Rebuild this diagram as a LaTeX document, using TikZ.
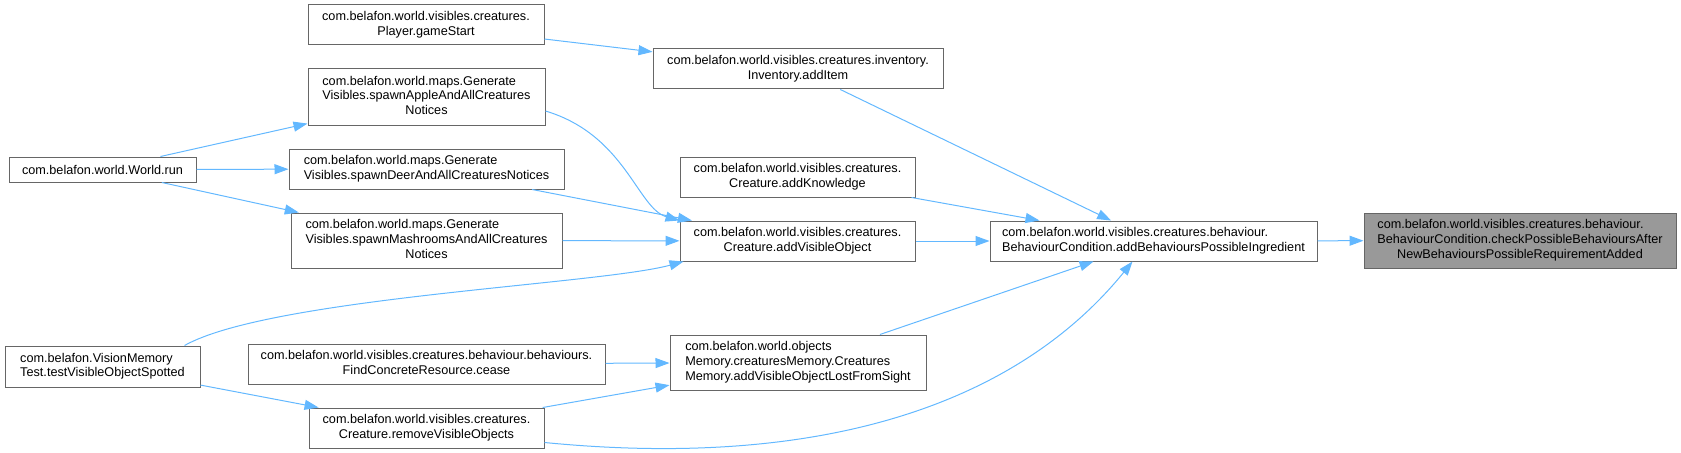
\documentclass[tikz,border=0pt]{standalone}
\usepackage{fontspec}
\setmainfont{Liberation Sans}
\usetikzlibrary{arrows.meta,calc}
\definecolor{edgeblue}{HTML}{63B8FF}
\definecolor{nodeborder}{HTML}{666666}
\definecolor{greyfill}{HTML}{999999}
\newcommand{\dlabel}[2]{\begin{tabular}{@{}l@{}}#1\\\multicolumn{1}{@{}c@{}}{#2}\end{tabular}}
\begin{document}
\begin{tikzpicture}[x=0.75pt,y=-0.75pt,
  box/.style={draw=nodeborder, line width=0.75pt, fill=white, inner sep=0pt,
    font=\fontsize{9.5}{11.2}\selectfont, text=black},
  greybox/.style={box, fill=greyfill},
  edge/.style={draw=edgeblue, line width=0.75pt, -{Triangle[length=10.5pt,width=7.5pt]}}]
\useasboundingbox (0,0) rectangle (1681,453);

% rank 4
\node[box, minimum width=140.25pt, minimum height=18.75pt] (worldRun) at (102.5,169.5) {com.belafon.world.World.run};
\node[box, minimum width=146.25pt, minimum height=30.75pt] (visionTest) at (102.5,366.5) {\dlabel{com.belafon.VisionMemory}{Test.testVisibleObjectSpotted}};

% rank 3
\node[box, minimum width=177pt, minimum height=30pt] (gameStart) at (426,25) {\dlabel{com.belafon.world.visibles.creatures.}{Player.gameStart}};
\node[box, minimum width=177.75pt, minimum height=42pt] (spawnApple) at (426.5,97) {\dlabel{com.belafon.world.maps.Generate\\Visibles.spawnAppleAndAllCreatures}{Notices}};
\node[box, minimum width=206.25pt, minimum height=30pt] (spawnDeer) at (426.5,169) {\dlabel{com.belafon.world.maps.Generate}{Visibles.spawnDeerAndAllCreaturesNotices}};
\node[box, minimum width=203.25pt, minimum height=41.25pt] (spawnMash) at (426.5,240.5) {\dlabel{com.belafon.world.maps.Generate\\Visibles.spawnMashroomsAndAllCreatures}{Notices}};
\node[box, minimum width=267.75pt, minimum height=30pt] (cease) at (426.5,364) {\dlabel{com.belafon.world.visibles.creatures.behaviour.behaviours.}{FindConcreteResource.cease}};
\node[box, minimum width=176.25pt, minimum height=30pt] (removeVis) at (426.5,428) {\dlabel{com.belafon.world.visibles.creatures.}{Creature.removeVisibleObjects}};

% rank 2
\node[box, minimum width=217.5pt, minimum height=30pt] (addItem) at (798,69) {\dlabel{com.belafon.world.visibles.creatures.inventory.}{Inventory.addItem}};
\node[box, minimum width=176.25pt, minimum height=30pt] (addKnowledge) at (797.5,177) {\dlabel{com.belafon.world.visibles.creatures.}{Creature.addKnowledge}};
\node[box, minimum width=176.25pt, minimum height=30pt] (addVisible) at (797.5,241) {\dlabel{com.belafon.world.visibles.creatures.}{Creature.addVisibleObject}};
\node[box, minimum width=192pt, minimum height=41.25pt] (objMem) at (798,362.5) {\dlabel{com.belafon.world.objects\\Memory.creaturesMemory.Creatures}{Memory.addVisibleObjectLostFromSight}};

% rank 1
\node[box, minimum width=245.25pt, minimum height=30pt] (addBeh) at (1153.5,241) {\dlabel{com.belafon.world.visibles.creatures.behaviour.}{BehaviourCondition.addBehavioursPossibleIngredient}};

% rank 0
\node[greybox, minimum width=234pt, minimum height=41.25pt] (check) at (1520,240.5) {\dlabel{com.belafon.world.visibles.creatures.behaviour.\\BehaviourCondition.checkPossibleBehavioursAfter}{NewBehavioursPossibleRequirementAdded}};

% edges
\draw[edge] (addBeh) -- (check);
\draw[edge] (addItem) -- (addBeh);
\draw[edge] (addKnowledge) -- (addBeh);
\draw[edge] (addVisible) -- (addBeh);
\draw[edge] (objMem) -- (addBeh);
\draw[edge] ($(removeVis.south east)+(0,-6)$) .. controls +(286,28) and +(-112,138) .. ($(addBeh.south)+(-21,0)$);
\draw[edge] (gameStart) -- (addItem);
\draw[edge] ($(spawnApple.east)+(0,14)$) .. controls +(80,24) and +(-42,-12) .. (addVisible.north west);
\draw[edge] (spawnDeer) -- (addVisible);
\draw[edge] (spawnMash) -- (addVisible);
\draw[edge] ($(visionTest.north east)+(-16,0)$) .. controls +(86,-48) and +(-84,23) .. ($(addVisible.south west)+(4,0)$);
\draw[edge] (cease) -- (objMem);
\draw[edge] (removeVis) -- (objMem);
\draw[edge] (worldRun) -- (spawnApple);
\draw[edge] (worldRun) -- (spawnDeer);
\draw[edge] (worldRun) -- (spawnMash);
\draw[edge] (visionTest) -- (removeVis);
\end{tikzpicture}
\end{document}
